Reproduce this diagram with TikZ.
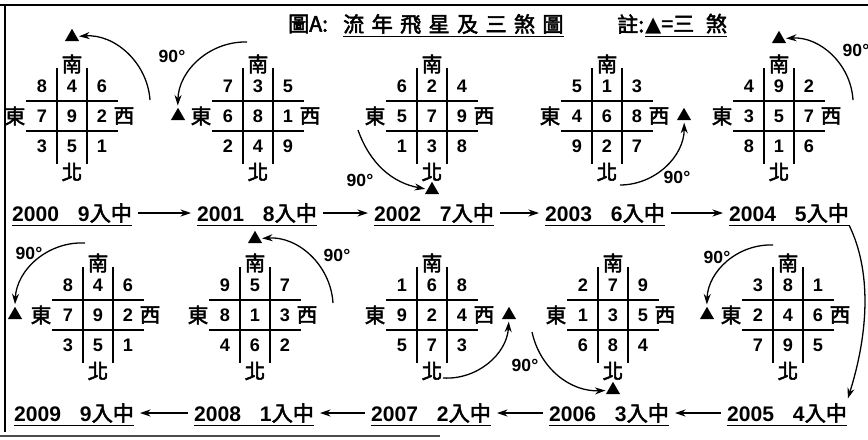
\documentclass[tikz,border=0pt]{standalone}
\usepackage{fontspec}
\setmainfont{Liberation Sans}
\newfontfamily\cjk[FakeBold=2.5]{Noto Sans CJK TC}
\newfontfamily\symb{DejaVu Sans}
\usetikzlibrary{positioning,shapes.geometric,arrows.meta}

\tikzset{
  digit/.style={font=\fontsize{15.5}{15.5}\selectfont\bfseries, inner sep=0pt},
  dirch/.style={font=\cjk\fontsize{17.5}{17.5}\selectfont, inner sep=0pt},
  gridline/.style={line width=1.2pt},
  tri/.style={regular polygon, regular polygon sides=3, fill=black, inner sep=0pt, minimum size=14pt},
  turn/.style={line width=1.1pt, -{Stealth[length=9pt,width=6pt]}, shorten >=2pt},
  deg/.style={font=\fontsize{15}{15}\selectfont\bfseries, inner sep=0pt},
  uline/.style={append after command={(\tikzlastnode.south west) edge[line width=1.1pt] (\tikzlastnode.south east)}},
  yearlab/.style={font=\fontsize{18}{18}\selectfont\bfseries, inner xsep=0pt, inner ysep=2pt, uline},
  ttl/.style={font=\cjk\fontsize{18}{18}\selectfont, inner xsep=0pt, inner ysep=2pt},
  flow/.style={line width=1.1pt, -{Stealth[length=9pt,width=6pt]}, shorten <=5pt, shorten >=5pt},
}

\begin{document}
\begin{tikzpicture}[x=0.03cm,y=0.03cm]
\useasboundingbox (0,0) rectangle (868,-439);
% frame
\draw[line width=1.5pt] (0,-5) -- (868,-5);
\draw[line width=1.5pt] (5,-5) -- (5,-432);
\draw[line width=1.2pt, black!70] (0,-436) -- (440,-436);

% title and note
\node[ttl, anchor=west] (head) at (288,-24) {圖A:};
\node[ttl, uline, anchor=west] (headb) at (343,-24) {\addfontfeature{LetterSpace=35}流年飛星及三煞圖};
\node[ttl, anchor=west] (note) at (617,-24) {註:};
\node[ttl, uline, anchor=west] (noteb) at (645,-24) {{\symb ▲}=三\hspace{10pt}煞};

% the ten year charts
\foreach \yr/\cx/\cy/\ta/\tb/\tc/\ma/\mb/\mc/\ba/\bb/\bc in {
  2000/72/116/8/4/6/7/9/2/3/5/1,
  2001/258/116/7/3/5/6/8/1/2/4/9,
  2002/432/116/6/2/4/5/7/9/1/3/8,
  2003/607/116/5/1/3/4/6/8/9/2/7,
  2004/779/116/4/9/2/3/5/7/8/1/6,
  2009/98/315/8/4/6/7/9/2/3/5/1,
  2008/255/315/9/5/7/8/1/3/4/6/2,
  2007/432/315/1/6/8/9/2/4/5/7/3,
  2006/613/315/2/7/9/1/3/5/6/8/4,
  2005/788/315/3/8/1/2/4/6/7/9/5}
{
  \draw[gridline] (\cx-15,-\cy+48) -- (\cx-15,-\cy-48);
  \draw[gridline] (\cx+15,-\cy+48) -- (\cx+15,-\cy-48);
  \draw[gridline] (\cx-46,-\cy+15) -- (\cx+46,-\cy+15);
  \draw[gridline] (\cx-46,-\cy-15) -- (\cx+46,-\cy-15);
  \node[digit] (tl\yr) at (\cx-30,-\cy+30) {\ta};
  \node[digit] (tm\yr) at (\cx,-\cy+30) {\tb};
  \node[digit] (tr\yr) at (\cx+30,-\cy+30) {\tc};
  \node[digit] (ml\yr) at (\cx-30,-\cy) {\ma};
  \node[digit] (mm\yr) at (\cx,-\cy) {\mb};
  \node[digit] (mr\yr) at (\cx+30,-\cy) {\mc};
  \node[digit] (bl\yr) at (\cx-30,-\cy-30) {\ba};
  \node[digit] (bm\yr) at (\cx,-\cy-30) {\bb};
  \node[digit] (br\yr) at (\cx+30,-\cy-30) {\bc};
  \node[dirch] (s\yr) at (\cx,-\cy+52) {南};
  \node[dirch] (n\yr) at (\cx,-\cy-56) {北};
  \node[dirch] (e\yr) at (\cx-57,-\cy) {東};
  \node[dirch] (w\yr) at (\cx+52,-\cy) {西};
}

% three killings markers
\node[tri] (t2000) at (72,-37) {};
\node[tri] (t2001) at (178,-116) {};
\node[tri] (t2002) at (432,-190) {};
\node[tri] (t2003) at (684,-116) {};
\node[tri] (t2004) at (779,-39) {};
\node[tri] (t2009) at (15,-315) {};
\node[tri] (t2008) at (255,-239) {};
\node[tri] (t2007) at (509,-315) {};
\node[tri] (t2006) at (613,-390) {};
\node[tri] (t2005) at (707,-315) {};

% 90 degree turns
\coordinate (a2000) at (150,-100);
\coordinate (a2001) at (247,-42);
\coordinate (a2002) at (358,-130);
\coordinate (a2003) at (620,-185);
\coordinate (a2004) at (853,-100);
\coordinate (a2009) at (85,-243);
\coordinate (a2008) at (333,-303);
\coordinate (a2007) at (443,-378);
\coordinate (a2006) at (532,-332);
\coordinate (a2005) at (773,-245);
\draw[turn] (a2000) to[bend right=45] (t2000);
\draw[turn] (a2001) to[bend right=45] (t2001);
\draw[turn] (a2002) to[bend right=30] (t2002);
\draw[turn] (a2003) to[bend right=45] (t2003);
\draw[turn] (a2004) to[bend right=45] (t2004);
\draw[turn] (a2009) to[bend right=45] (t2009);
\draw[turn] (a2008) to[bend right=45] (t2008);
\draw[turn] (a2007) to[bend right=45] (t2007);
\draw[turn] (a2006) to[bend right=40] (t2006);
\draw[turn] (a2005) to[bend right=45] (t2005);
\node[deg] (d2001) at (172,-56) {90°};
\node[deg] (d2002) at (360,-180) {90°};
\node[deg] (d2003) at (677,-177) {90°};
\node[deg] (d2004) at (856,-50) {90°};
\node[deg] (d2009) at (29,-253) {90°};
\node[deg] (d2008) at (337,-255) {90°};
\node[deg] (d2007) at (525,-365) {90°};
\node[deg] (d2005) at (717,-257) {90°};

% year labels
\node[yearlab] (l2000) at (72,-213) {2000\hspace{0.9em}9{\mdseries\cjk 入中}};
\node[yearlab] (l2001) at (257,-213) {2001\hspace{0.9em}8{\mdseries\cjk 入中}};
\node[yearlab] (l2002) at (434,-213) {2002\hspace{0.9em}7{\mdseries\cjk 入中}};
\node[yearlab] (l2003) at (605,-213) {2003\hspace{0.9em}6{\mdseries\cjk 入中}};
\node[yearlab] (l2004) at (789,-213) {2004\hspace{0.9em}5{\mdseries\cjk 入中}};
\node[yearlab] (l2009) at (74,-413) {2009\hspace{0.9em}9{\mdseries\cjk 入中}};
\node[yearlab] (l2008) at (254,-413) {2008\hspace{0.9em}1{\mdseries\cjk 入中}};
\node[yearlab] (l2007) at (431,-413) {2007\hspace{0.9em}2{\mdseries\cjk 入中}};
\node[yearlab] (l2006) at (609,-413) {2006\hspace{0.9em}3{\mdseries\cjk 入中}};
\node[yearlab] (l2005) at (787,-413) {2005\hspace{0.9em}4{\mdseries\cjk 入中}};
\draw[flow] (l2000) -- (l2001);
\draw[flow] (l2001) -- (l2002);
\draw[flow] (l2002) -- (l2003);
\draw[flow] (l2003) -- (l2004);
\draw[turn] (l2004.south east) .. controls +(22,-45) and +(22,70) .. (l2005.north east);
\draw[flow] (l2005) -- (l2006);
\draw[flow] (l2006) -- (l2007);
\draw[flow] (l2007) -- (l2008);
\draw[flow] (l2008) -- (l2009);
\end{tikzpicture}
\end{document}
